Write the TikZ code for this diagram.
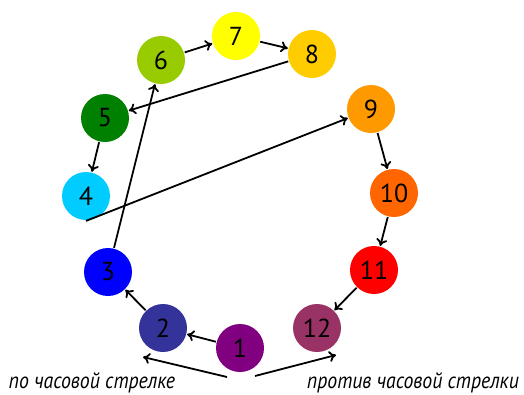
\documentclass[tikz,border=0pt]{standalone}
\usepackage{fontspec}
\setmainfont{PT Sans}
\usepackage{graphicx}
\usetikzlibrary{arrows.meta}

\definecolor{c1}{HTML}{800080}
\definecolor{c2}{HTML}{333399}
\definecolor{c3}{HTML}{0000FF}
\definecolor{c4}{HTML}{00CCFF}
\definecolor{c5}{HTML}{008000}
\definecolor{c6}{HTML}{99CC00}
\definecolor{c7}{HTML}{FFFF00}
\definecolor{c8}{HTML}{FFCC00}
\definecolor{c9}{HTML}{FF9900}
\definecolor{c10}{HTML}{FF6600}
\definecolor{c11}{HTML}{FF0000}
\definecolor{c12}{HTML}{993366}

\begin{document}
\begin{tikzpicture}[x=1pt, y=-1pt, line width=1.8pt, >={To[length=7pt,width=11pt]},
  main/.style = {circle, minimum size=48pt, inner sep=0pt, font=\fontsize{26}{28}\selectfont},
  lbl/.style = {anchor=base, font=\fontsize{22.5}{24}\selectfont\itshape}]
\useasboundingbox (0,0) rectangle (524,394);
\node[main, fill=c1] (1) at (240,348) {1};
\node[main, fill=c2] (2) at (163,328) {2};
\node[main, fill=c3] (3) at (108,272) {3};
\node[main, fill=c4] (4) at (86,196) {4};
\node[main, fill=c5] (5) at (105,118) {5};
\node[main, fill=c6] (6) at (161,60) {6};
\node[main, fill=c7] (7) at (236,36) {7};
\node[main, fill=c8] (8) at (312,54) {8};
\node[main, fill=c9] (9) at (371,109) {9};
\node[main, fill=c10] (10) at (394,193) {10};
\node[main, fill=c11] (11) at (374,270) {11};
\node[main, fill=c12] (12) at (317,328) {12};
\node[lbl] (cw) at (92,388) {\scalebox{0.88}[1]{по часовой стрелке}};
\node[lbl] (ccw) at (413,388) {\scalebox{0.88}[1]{против часовой стрелки}};
\coordinate (cwa) at (227,377);
\coordinate (cwb) at (143,357);
\coordinate (ccwa) at (255,376);
\coordinate (ccwb) at (336,355);
\draw[->] (1) -- (2);
\draw[->] (2) -- (3);
\draw[->] (3) -- (6);
\draw[->] (6) -- (7);
\draw[->] (7) -- (8);
\draw[->] (8) -- (5);
\draw[->] (5) -- (4);
\draw[->] (4.south) -- (9);
\draw[->] (9) -- (10);
\draw[->] (10) -- (11);
\draw[->] (11) -- (12);
\draw[->] (cwa) -- (cwb);
\draw[->] (ccwa) -- (ccwb);
\end{tikzpicture}
\end{document}
